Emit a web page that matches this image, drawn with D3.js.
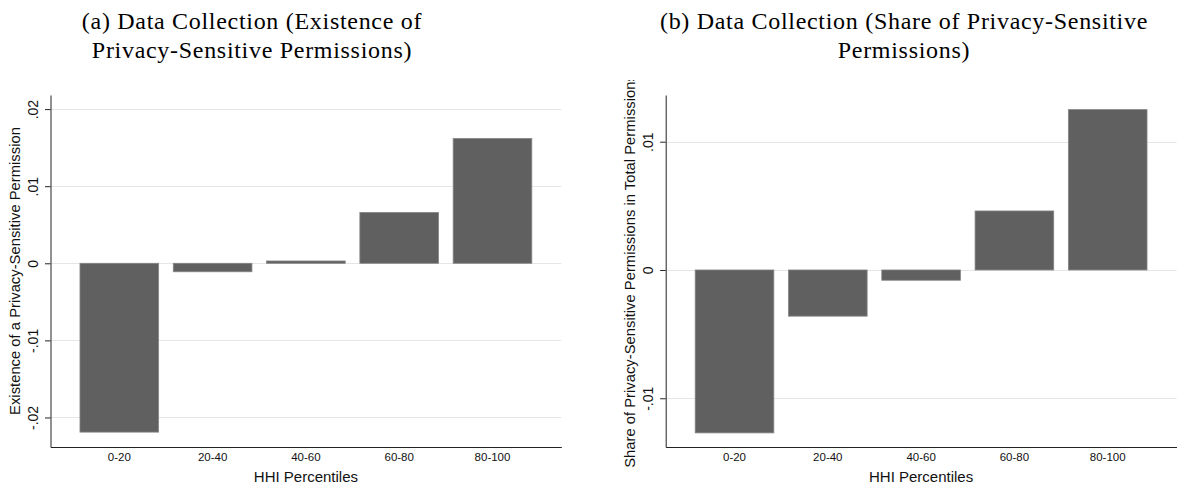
<!DOCTYPE html>
<html>
<head>
<meta charset="utf-8">
<script src="https://cdn.jsdelivr.net/npm/d3@7"></script>
<style>
  html, body { margin: 0; padding: 0; background: #fff; }
  svg { display: block; }
  .sans { font-family: "Liberation Sans", Arial, Helvetica, sans-serif; }
  .serif { font-family: "Liberation Serif", "Times New Roman", serif; }
</style>
</head>
<body>
<svg id="chart" width="1180" height="488"></svg>
<script>
// ---- data ----
const categories = ["0-20", "20-40", "40-60", "60-80", "80-100"];
const existenceValues = [-0.0219, -0.0011, 0.0003, 0.0066, 0.0162];
const shareValues = [-0.0127, -0.0036, -0.0008, 0.0046, 0.0125];
const existenceTicks = [-0.02, -0.01, 0, 0.01, 0.02];
const existenceTickLabels = ["-.02", "-.01", "0", ".01", ".02"];
const shareTicks = [-0.01, 0, 0.01];
const shareTickLabels = ["-.01", "0", ".01"];
const titleA = ["(a) Data Collection (Existence of", "Privacy-Sensitive Permissions)"];
const titleB = ["(b) Data Collection (Share of Privacy-Sensitive", "Permissions)"];
const yTitleA = "Existence of a Privacy-Sensitive Permission";
const yTitleB = "Share of Privacy-Sensitive Permissions in Total Permissions";
const xTitle = "HHI Percentiles";

const svg = d3.select("#chart");

const panels = [
  { x0: 50.5, x1: 561.3, domain: [-0.02383, 0.02183], values: existenceValues,
    ticks: existenceTicks, tickLabels: existenceTickLabels, yTitle: yTitleA,
    title: titleA, titleX: 252 },
  { x0: 665.7, x1: 1176.5, domain: [-0.0138, 0.01364], values: shareValues,
    ticks: shareTicks, tickLabels: shareTickLabels, yTitle: yTitleB,
    title: titleB, titleX: 904 }
];

const yTop = 95, yBottom = 447;

svg.append("defs").append("clipPath").attr("id", "plotclip")
  .append("rect").attr("x", 0).attr("y", 80).attr("width", 1180).attr("height", 420);

panels.forEach((p, pi) => {
  const g = svg.append("g");
  const x = d3.scaleBand().domain(categories).range([p.x0, p.x1])
    .paddingInner(0.157).paddingOuter(0.316);
  const y = d3.scaleLinear().domain(p.domain).range([yBottom, yTop]);

  // gridlines
  g.append("g").selectAll("line").data(p.ticks).join("line")
    .attr("x1", p.x0).attr("x2", p.x1)
    .attr("y1", d => Math.round(y(d)) + 0.5).attr("y2", d => Math.round(y(d)) + 0.5)
    .attr("stroke", "#e6e6e6").attr("stroke-width", 1);

  // bars
  g.append("g").selectAll("rect").data(p.values).join("rect")
    .attr("x", (d, i) => x(categories[i]))
    .attr("width", x.bandwidth())
    .attr("y", d => Math.min(y(d), y(0)))
    .attr("height", d => Math.abs(y(d) - y(0)))
    .attr("fill", "#606060")
    .attr("stroke", "#858585").attr("stroke-width", 0.8);

  // y axis
  const yAxis = d3.axisLeft(y).tickValues(p.ticks)
    .tickFormat((d, i) => p.tickLabels[i]).tickSizeInner(5.5).tickSizeOuter(0);
  const ya = g.append("g").attr("transform", `translate(${p.x0},0)`).call(yAxis);
  ya.select(".domain").attr("stroke", "#222").attr("stroke-width", 1);
  ya.selectAll(".tick line").attr("stroke", "#222");
  ya.selectAll(".tick text")
    .attr("class", "sans")
    .attr("x", null).attr("dy", null)
    .attr("text-anchor", "middle")
    .attr("transform", "translate(-12.5,0) rotate(-90)")
    .attr("fill", "#111")
    .style("font-size", "14px");

  // x axis
  const xAxis = d3.axisBottom(x).tickSizeInner(0).tickSizeOuter(0).tickPadding(0);
  const xa = g.append("g").attr("transform", `translate(0,${yBottom})`).call(xAxis);
  xa.select(".domain").attr("stroke", "#222").attr("stroke-width", 1);
  xa.selectAll(".tick text")
    .attr("class", "sans")
    .attr("y", 14).attr("dy", null)
    .attr("fill", "#111")
    .style("font-size", "11.5px");
  ya.attr("font-family", null); xa.attr("font-family", null);

  // x title
  g.append("text").attr("class", "sans")
    .attr("x", (p.x0 + p.x1) / 2).attr("y", 481.5)
    .attr("text-anchor", "middle").attr("fill", "#111")
    .style("font-size", "15px").text(xTitle);

  // y title
  g.append("g").attr("clip-path", "url(#plotclip)")
    .append("text").attr("class", "sans")
    .attr("text-anchor", "middle").attr("fill", "#111")
    .attr("transform", `translate(${p.x0 - 30.5},${(yTop + yBottom) / 2}) rotate(-90)`)
    .style("font-size", "14.8px").text(p.yTitle);

  // panel title
  p.title.forEach((line, li) => {
    svg.append("text").attr("class", "serif")
      .attr("x", p.titleX).attr("y", 28.5 + li * 29)
      .attr("text-anchor", "middle").attr("fill", "#000")
      .style("font-size", "24px").style("letter-spacing", "0.7px")
      .text(line);
  });
});
</script>
</body>
</html>
